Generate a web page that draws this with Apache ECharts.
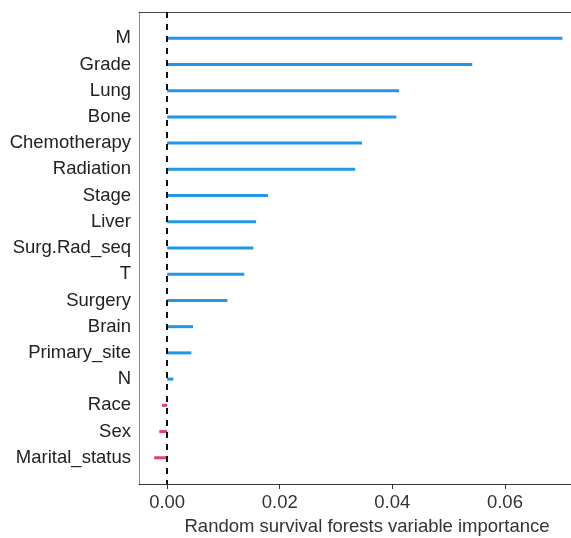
<!DOCTYPE html>
<html>
<head>
<meta charset="utf-8">
<script src="https://cdn.jsdelivr.net/npm/echarts@6/dist/echarts.min.js"></script>
<style>
  html, body { margin: 0; padding: 0; background: #fff; overflow: hidden; }
  #chart { width: 571px; height: 538px; }
</style>
</head>
<body>
<div id="chart"></div>
<script>
// Variable importance from a random survival forest, ordered top to bottom
const variables = ['M', 'Grade', 'Lung', 'Bone', 'Chemotherapy', 'Radiation', 'Stage', 'Liver',
  'Surg.Rad_seq', 'T', 'Surgery', 'Brain', 'Primary_site', 'N', 'Race', 'Sex', 'Marital_status'];
const importance = [0.0702, 0.0542, 0.0412, 0.0407, 0.0346, 0.0334, 0.0179, 0.0158,
  0.0153, 0.0137, 0.0107, 0.0046, 0.0043, 0.0011, -0.0009, -0.0014, -0.0023];
const xTicks = [0, 0.02, 0.04, 0.06];

const POS = '#2196e6';
const NEG = '#e2406a';
const FONT = '"Liberation Sans", Arial, Helvetica, sans-serif';

// pad the category axis with an empty slot at each end
const cats = [''].concat(variables, ['']);
const vals = [null].concat(importance.map(v => ({
  value: v,
  itemStyle: { color: v >= 0 ? POS : NEG }
})), [null]);

const chart = echarts.init(document.getElementById('chart'), null, { renderer: 'canvas' });
chart.setOption({
  animation: false,
  backgroundColor: '#fff',
  // plot panel runs past the right edge of the canvas
  grid: {
    left: 139, top: 12, width: 456, height: 472,
    containLabel: false, outerBoundsMode: 'none'
  },
  xAxis: [{
    type: 'value',
    min: -0.005,
    max: 0.076,
    name: 'Random survival forests variable importance',
    nameLocation: 'middle',
    nameGap: 33,
    nameTextStyle: { fontFamily: FONT, fontSize: 18.5, color: '#333' },
    axisLine: { show: true, onZero: false, lineStyle: { color: '#333', width: 1 } },
    axisTick: { show: true, length: 5, lineStyle: { color: '#333' }, customValues: xTicks },
    axisLabel: {
      fontFamily: FONT, fontSize: 18.5, color: '#333', margin: 9,
      customValues: xTicks,
      formatter: v => v.toFixed(2)
    },
    splitLine: { show: false }
  }, {
    type: 'value',
    position: 'top',
    min: -0.005,
    max: 0.076,
    axisLine: { show: true, onZero: false, lineStyle: { color: '#444', width: 1 } },
    axisTick: { show: false },
    axisLabel: { show: false },
    splitLine: { show: false }
  }],
  yAxis: {
    type: 'category',
    data: cats,
    inverse: true,
    boundaryGap: false,
    axisLine: { show: true, onZero: false, lineStyle: { color: '#888', width: 1 } },
    axisTick: { show: false },
    axisLabel: { fontFamily: FONT, fontSize: 18.5, color: '#222', margin: 8, interval: 0 },
    splitLine: { show: false }
  },
  series: [{
    type: 'bar',
    xAxisIndex: 0,
    data: vals,
    barWidth: 3,
    itemStyle: { color: POS },
    markLine: {
      silent: true,
      symbol: ['none', 'none'],
      label: { show: false },
      lineStyle: { color: '#111', width: 2, type: [6, 6] },
      data: [{ xAxis: 0 }]
    },
    z: 3
  }]
});
</script>
</body>
</html>
